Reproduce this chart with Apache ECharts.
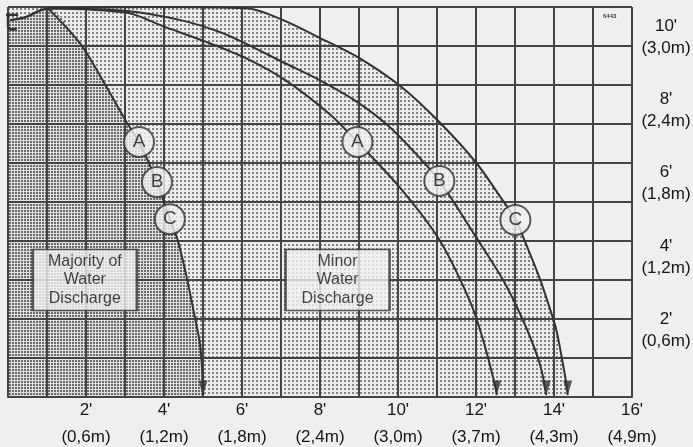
<!DOCTYPE html>
<html><head><meta charset="utf-8">
<script src="https://cdn.jsdelivr.net/npm/echarts@6/dist/echarts.min.js"></script>
<style>html,body{margin:0;padding:0;background:#efefef;}#c{width:693px;height:447px;}</style>
</head><body><div id="c"></div>
<script>
// ---- tick labels ----
const xTickValues = [2, 4, 6, 8, 10, 12, 14, 16];
const xTickLabels = ["2'\n(0,6m)", "4'\n(1,2m)", "6'\n(1,8m)", "8'\n(2,4m)", "10'\n(3,0m)", "12'\n(3,7m)", "14'\n(4,3m)", "16'\n(4,9m)"];
const yTickValues = [2, 4, 6, 8, 10];
const yTickLabels = ["2'\n(0,6m)", "4'\n(1,2m)", "6'\n(1,8m)", "8'\n(2,4m)", "10'\n(3,0m)"];

// ---- curves (feet: [distance, height]) ----
const nearCurve = [[1.02,9.97],[1.84,9.08],[2.28,8.38],[3.05,7.03],[3.36,6.54],[3.82,5.51],[4.15,4.56],[4.35,4.03],[4.58,3.08],[4.79,2.05],[4.92,1.38],[4.99,0.51],[5.0,0.05]];
const farA = [[1.02,9.97],[3.05,9.85],[4.02,9.49],[5.04,9.12],[6.07,8.7],[7.1,8.13],[8.25,7.25],[8.96,6.54],[10.04,5.38],[11.06,4.03],[11.83,2.49],[12.16,1.54],[12.5,0.26],[12.53,0.05]];
const farB = [[1.02,9.97],[3.05,9.90],[4.40,9.67],[5.43,9.36],[6.12,9.05],[7.04,8.59],[8.0,8.12],[8.9,7.6],[9.7,7.0],[10.4,6.3],[11.06,5.54],[12.0,4.1],[12.75,2.9],[13.3,1.75],[13.65,0.8],[13.8,0.05]];
const farC = [[1.02,9.97],[3.6,10.0],[6.12,9.97],[7.04,9.67],[7.99,9.21],[9.01,8.69],[10.09,7.95],[11.06,7.05],[12.01,6.0],[12.68,5.05],[13.03,4.54],[13.19,4.15],[13.62,3.08],[13.88,2.31],[14.06,1.72],[14.21,0.95],[14.33,0.26],[14.35,0.05]];
const sprinklerArc = [[0.05,9.66],[0.45,9.74],[0.75,9.88],[1.02,9.97]];
const sprinklerBar = [[-0.08,9.8],[0.26,9.8]];
const sprinklerStem = [[0.0,9.8],[0.0,9.5],[0.1,9.42],[0.22,9.45]];

// ---- labelled circles ----
const circleNames = ['A','B','C','A','B','C'];
const circlePoints = [[3.36,6.54],[3.82,5.51],[4.15,4.56],[8.96,6.54],[11.06,5.54],[13.01,4.54]];

// ---- boxes ----
const boxTexts = ['Majority of\nWater\nDischarge', 'Minor\nWater\nDischarge'];
const boxPoints = [[1.97,3.0],[8.45,3.0]];

const FONT = 'Liberation Sans, Arial, Helvetica, sans-serif';
const INK = '#333';
const TXT = '#151515';

function pattern(w, h, bg, fg, dw, dh) {
  const c = document.createElement('canvas');
  c.width = w; c.height = h;
  const g = c.getContext('2d');
  g.fillStyle = bg; g.fillRect(0, 0, w, h);
  g.fillStyle = fg; g.fillRect(0, 0, dw, dh);
  return { image: c, repeat: 'repeat' };
}
const lightFill = pattern(4, 4, '#ececec', '#858585', 2, 2);
const denseFill = pattern(3, 3, '#e0e0e0', '#6a6a6a', 2, 2);

const lightArea = [[0,10]].concat(farC);
const denseArea = [[0,9.6],[0.45,9.74],[0.75,9.88]].concat(nearCurve);

const SMOOTH = 0.3;
function curve(data) {
  return { type: 'line', data: data, smooth: SMOOTH, symbol: 'none', z: 4, silent: true,
    lineStyle: { color: INK, width: 2 }, xAxisIndex: 0, yAxisIndex: 0 };
}
function area(data, fill, z) {
  return { type: 'line', data: data, smooth: SMOOTH, symbol: 'none', z: z, silent: true,
    lineStyle: { width: 0 }, areaStyle: { color: fill, opacity: 1 }, xAxisIndex: 0, yAxisIndex: 0 };
}
function plain(data) {
  return { type: 'line', data: data, smooth: 0.3, symbol: 'none', z: 4, clip: false, silent: true,
    lineStyle: { color: INK, width: 2.5 }, xAxisIndex: 0, yAxisIndex: 0 };
}

const arrowTips = [nearCurve, farA, farB, farC].map(c => c[c.length - 1]);

const chart = echarts.init(document.getElementById('c'), null, { renderer: 'canvas' });
chart.setOption({
  backgroundColor: '#efefef',
  animation: false,
  title: { text: '6443', left: 598, top: 8, textStyle: { fontSize: 6, fontWeight: 'bold', color: '#444', fontFamily: FONT } },
  grid: [
    { left: 8, right: 61, top: 7, bottom: 50, outerBoundsMode: 'none', containLabel: false },
    { left: 8, right: 61, top: 37.5, bottom: 117, outerBoundsMode: 'none', containLabel: false }
  ],
  xAxis: [
    { type: 'value', gridIndex: 0, min: 0, max: 16, interval: 1, z: 3,
      axisLine: { show: true, lineStyle: { color: '#444', width: 2 } },
      axisTick: { show: false },
      splitLine: { show: true, lineStyle: { color: '#444', width: 2 } },
      axisLabel: { margin: 0, fontSize: 17, lineHeight: 27, color: TXT, fontFamily: FONT,
        formatter: v => { const i = xTickValues.indexOf(v); return i >= 0 ? xTickLabels[i] : ''; } } },
    { type: 'value', gridIndex: 1, min: 0, max: 16, show: false }
  ],
  yAxis: [
    { type: 'value', gridIndex: 0, min: 0, max: 10, interval: 1, position: 'right', z: 3,
      axisLine: { show: false }, axisTick: { show: false }, axisLabel: { show: false },
      splitLine: { show: true, lineStyle: { color: '#444', width: 2 } } },
    { type: 'value', gridIndex: 1, min: 2, max: 10, interval: 2, position: 'right',
      axisLine: { show: false }, axisTick: { show: false }, splitLine: { show: false },
      axisLabel: { margin: 34, align: 'center', fontSize: 17, lineHeight: 22, color: TXT, fontFamily: FONT,
        formatter: v => { const i = yTickValues.indexOf(v); return i >= 0 ? yTickLabels[i] : ''; } } }
  ],
  series: [
    area(lightArea, lightFill, 1),
    area(denseArea, denseFill, 2),
    curve(nearCurve), curve(farA), curve(farB), curve(farC),
    plain(sprinklerArc), plain(sprinklerBar), plain(sprinklerStem),
    { type: 'scatter', data: arrowTips, symbol: 'triangle', symbolSize: [9, 15], symbolRotate: 180,
      symbolOffset: [0, -7], z: 5, silent: true, itemStyle: { color: INK } },
    { type: 'scatter', z: 6, silent: true, symbol: 'rect', symbolSize: [104, 61],
      data: boxTexts.map((t, i) => ({ name: t, value: boxPoints[i] })),
      itemStyle: { color: '#f1f1f1', borderColor: INK, borderWidth: 2 },
      label: { show: true, position: 'inside', formatter: p => p.name, fontSize: 16, lineHeight: 18.5, color: TXT, fontFamily: FONT } },
    { type: 'scatter', z: 6, silent: true, symbol: 'circle', symbolSize: 30,
      data: circleNames.map((n, i) => ({ name: n, value: circlePoints[i] })),
      itemStyle: { color: '#f1f1f1', borderColor: INK, borderWidth: 2 },
      label: { show: true, position: 'inside', formatter: p => p.name, fontSize: 19, color: TXT, fontFamily: FONT } }
  ]
});
</script>
</body></html>
